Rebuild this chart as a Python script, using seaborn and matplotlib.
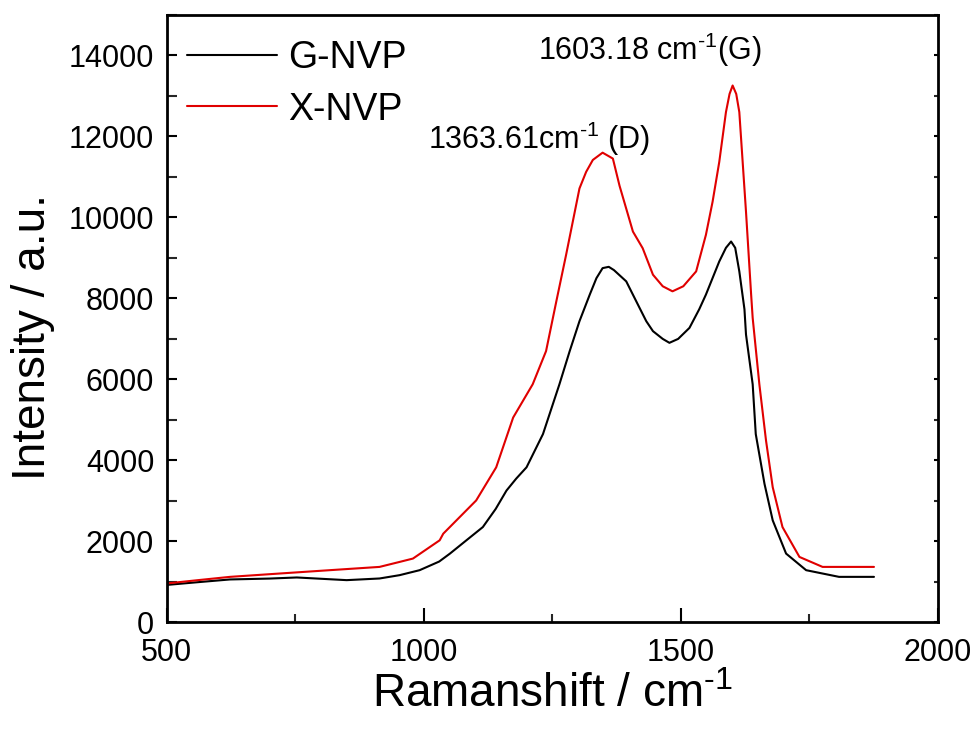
import numpy as np
import pandas as pd
import seaborn as sns
import matplotlib.pyplot as plt
from matplotlib.ticker import MultipleLocator

# G-NVP (black) spectrum
g_shift = [500, 560, 623, 700, 753, 850, 914, 953, 992, 1030, 1051, 1083, 1115,
           1140, 1161, 1180, 1200, 1232, 1264, 1284, 1303, 1323, 1336, 1348, 1360,
           1370, 1394, 1420, 1433, 1446, 1465, 1478, 1495, 1517, 1536, 1549, 1575,
           1588, 1598, 1606, 1614, 1624, 1627, 1640, 1646, 1663, 1679, 1705, 1744,
           1808, 1876]
g_int = [923, 990, 1058, 1080, 1107, 1041, 1082, 1164, 1287, 1500, 1697, 2025, 2352,
         2800, 3254, 3550, 3828, 4649, 5879, 6699, 7437, 8093, 8500, 8748, 8780,
         8700, 8421, 7764, 7437, 7191, 7000, 6903, 7000, 7272, 7732, 8093, 8913,
         9250, 9405, 9250, 8667, 7732, 7109, 5879, 4649, 3419, 2517, 1697, 1287,
         1122, 1122]

# X-NVP (red) spectrum
x_shift = [500, 560, 623, 720, 817, 914, 953, 979, 1031, 1038, 1102, 1141, 1174,
           1212, 1238, 1258, 1277, 1303, 1316, 1329, 1348, 1368, 1381, 1407, 1426,
           1446, 1465, 1484, 1505, 1530, 1549, 1562, 1575, 1588, 1595, 1601, 1608,
           1614, 1627, 1637, 1640, 1653, 1666, 1679, 1698, 1731, 1776, 1876]
x_int = [959, 1040, 1122, 1205, 1287, 1368, 1491, 1574, 2025, 2189, 3009, 3828, 5058,
         5879, 6699, 7929, 9077, 10716, 11126, 11420, 11600, 11454, 10781, 9651, 9240,
         8585, 8300, 8175, 8300, 8667, 9569, 10388, 11372, 12602, 13050, 13259, 13050,
         12602, 10142, 8093, 7518, 5879, 4485, 3336, 2352, 1614, 1368, 1368]

samples = ["G-NVP", "X-NVP"]
colors = ["black", "#e00000"]

df = pd.concat([
    pd.DataFrame({"shift": g_shift, "intensity": g_int, "sample": samples[0]}),
    pd.DataFrame({"shift": x_shift, "intensity": x_int, "sample": samples[1]}),
], ignore_index=True)

sns.set_theme(style="ticks")
plt.rcParams["font.family"] = ["Liberation Sans", "DejaVu Sans"]
plt.rcParams["mathtext.default"] = "regular"
plt.rcParams["text.color"] = "black"
plt.rcParams["axes.labelcolor"] = "black"

fig = plt.figure(figsize=(9.78, 7.36), dpi=100)
ax = fig.add_axes([0.1705, 0.1545, 0.7883, 0.8251])

sns.lineplot(data=df, x="shift", y="intensity", hue="sample",
             palette=dict(zip(samples, colors)), linewidth=1.5, ax=ax,
             estimator=None, sort=False)

ax.set_xlim(500, 2000)
ax.set_ylim(0, 15000)
ax.xaxis.set_major_locator(MultipleLocator(500))
ax.xaxis.set_minor_locator(MultipleLocator(250))
ax.yaxis.set_major_locator(MultipleLocator(2000))
ax.yaxis.set_minor_locator(MultipleLocator(1000))
ax.tick_params(axis="both", which="major", direction="in", length=10, width=1.5,
               labelsize=22, colors="black")
ax.tick_params(axis="both", which="minor", direction="in", length=6, width=1.5)
ax.tick_params(axis="y", which="both", length=7)
ax.tick_params(axis="x", pad=11)
ax.tick_params(axis="y", pad=9)
# tiny outward ticks on the right spine, as in the original
ax.tick_params(axis="y", which="both", right=True, labelright=False)
for t in ax.yaxis.get_major_ticks() + ax.yaxis.get_minor_ticks():
    t.tick2line.set_markersize(3)
    t.tick2line.set_marker(0)
for s in ax.spines.values():
    s.set_linewidth(2)
    s.set_color("black")

ax.set_xlabel("Ramanshift / cm$^{\u20101}$", fontsize=33)
ax.set_ylabel("Intensity / a.u.", fontsize=33)
ax.yaxis.set_label_coords(-0.145, 0.47)

ax.text(1222, 14150, "1603.18 cm$^{\u20101}$(G)", fontsize=22, va="center", ha="left")
ax.text(1008, 11950, "1363.61cm$^{\u20101}$ (D)", fontsize=22, va="center", ha="left")

ax.legend(loc="upper left", frameon=False, fontsize=27, handlelength=2.4,
          handletextpad=0.3, labelspacing=0.42, borderaxespad=0.1,
          bbox_to_anchor=(0.002, 0.99))

fig.savefig("out.png", dpi=100)
